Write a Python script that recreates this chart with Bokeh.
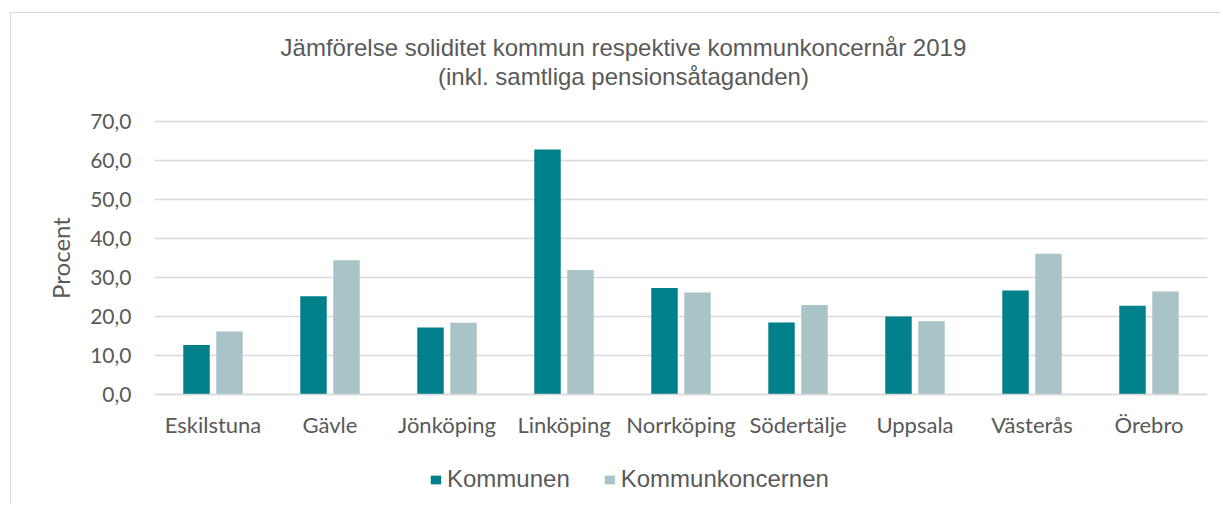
from bokeh.plotting import figure
from bokeh.models import FactorRange, Range1d, ColumnDataSource, Legend, LegendItem, Label
from bokeh.transform import dodge
from bokeh.embed import file_html
from bokeh.resources import INLINE

# ---- data ----
title_lines = ["Jämförelse soliditet kommun respektive kommunkoncernår 2019",
               "(inkl. samtliga pensionsåtaganden)"]
categories = ["Eskilstuna", "Gävle", "Jönköping", "Linköping", "Norrköping",
              "Södertälje", "Uppsala", "Västerås", "Örebro"]
kommunen = [12.7, 25.2, 17.2, 62.8, 27.3, 18.5, 20.0, 26.7, 22.8]
kommunkoncernen = [16.2, 34.4, 18.4, 31.9, 26.2, 23.0, 18.8, 36.1, 26.4]
series_labels = ["Kommunen", "Kommunkoncernen"]
y_ticks = [0, 10, 20, 30, 40, 50, 60, 70]
y_tick_labels = ["0,0", "10,0", "20,0", "30,0", "40,0", "50,0", "60,0", "70,0"]
y_axis_title = "Procent"

# ---- style ----
C_K = "#00808A"
C_KK = "#A8C4C9"
TXT = "#595959"
GRID = "#D9D9D9"
CAL = "Lato"
ARIAL = "Liberation Sans"

src = ColumnDataSource(dict(cat=categories, k=kommunen, kk=kommunkoncernen))

# frame spans the whole chart box so that title and legend sit inside it
p = figure(x_range=FactorRange(factors=categories), y_range=Range1d(-27.07, 97.07),
           width=1210, height=492, output_backend="svg", toolbar_location=None,
           title=None,
           min_border_left=143, min_border_right=14,
           min_border_top=2, min_border_bottom=5)
p.styles = {"margin-left": "10px", "margin-top": "12px",
            "border-left": "1px solid #D9D9D9", "border-top": "1px solid #D9D9D9"}
p.outline_line_color = None
p.background_fill_color = "white"
p.border_fill_color = "white"

r1 = p.vbar(x=dodge("cat", -0.141, range=p.x_range), top="k", width=0.226,
            source=src, fill_color=C_K, line_color=None)
r2 = p.vbar(x=dodge("cat", 0.141, range=p.x_range), top="kk", width=0.226,
            source=src, fill_color=C_KK, line_color=None)

# grid
p.xgrid.visible = False
p.ygrid.grid_line_color = GRID
p.ygrid.grid_line_width = 1.5

# y axis
p.yaxis.ticker = y_ticks
p.yaxis.major_label_overrides = dict(zip(y_ticks, y_tick_labels))
p.yaxis.axis_line_color = None
p.yaxis.major_tick_line_color = None
p.yaxis.minor_tick_line_color = None
p.yaxis.major_tick_out = 0
p.yaxis.major_label_standoff = 23
p.yaxis.major_label_text_font = CAL
p.yaxis.major_label_text_font_size = "21px"
p.yaxis.major_label_text_color = TXT
p.yaxis.axis_label = y_axis_title
p.yaxis.axis_label_text_font = CAL
p.yaxis.axis_label_text_font_size = "24px"
p.yaxis.axis_label_text_font_style = "normal"
p.yaxis.axis_label_text_color = TXT
p.yaxis.axis_label_standoff = 12

# x axis, pinned at value 0
p.xaxis.fixed_location = 0
p.xaxis.axis_line_color = GRID
p.xaxis.axis_line_width = 1.5
p.xaxis.major_tick_line_color = None
p.xaxis.minor_tick_line_color = None
p.xaxis.major_tick_out = 0
p.xaxis.major_label_standoff = 16
p.xaxis.major_label_text_font = CAL
p.xaxis.major_label_text_font_size = "22px"
p.xaxis.major_label_text_color = TXT

# title (two lines)
for txt, ty in zip(title_lines, [88.96, 81.5]):
    p.add_layout(Label(x=4.008, y=ty, text=txt, text_align="center",
                       text_baseline="middle", text_font=ARIAL,
                       text_font_size="24px", text_color=TXT))

# legend
legend = Legend(items=[LegendItem(label=series_labels[0], renderers=[r1]),
                       LegendItem(label=series_labels[1], renderers=[r2])],
                orientation="horizontal", location=(275, 7),
                padding=0, margin=0, spacing=33, label_standoff=5,
                glyph_width=13, glyph_height=11,
                border_line_color=None, background_fill_alpha=0,
                label_text_font=ARIAL, label_text_font_size="24px",
                label_text_color=TXT)
p.add_layout(legend)

open("out.html", "w", encoding="utf-8").write(file_html(p, INLINE))
